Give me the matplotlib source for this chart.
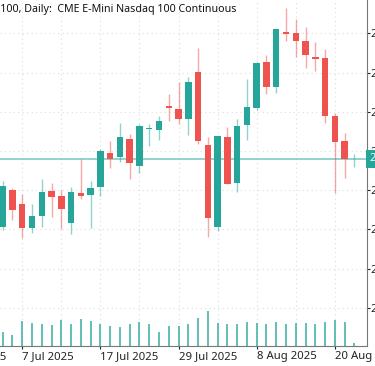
import numpy as np
import pandas as pd
import matplotlib
matplotlib.use("Agg")
import matplotlib.pyplot as plt
import matplotlib.transforms as mtransforms

plt.rcParams['font.family'] = ['Noto Sans', 'DejaVu Sans']

# daily bars, 3 Jul - 22 Aug 2025
dates = pd.bdate_range('2025-07-03', '2025-08-22')

opens = [22810, 23000, 22928, 22808, 22869, 22994, 22968, 22831, 22985, 22974,
         23017, 23191, 23170, 23262, 23124, 23310, 23308, 23431, 23414, 23364,
         23601, 23230, 22813, 23272, 23038, 23332, 23417, 23652, 23528, 23808,
         23800, 23762, 23678, 23676, 23378, 23249, 23157]
highs = [23048, 23009, 22980, 22929, 23057, 23038, 23000, 23017, 23159, 23046,
         23208, 23250, 23342, 23286, 23336, 23337, 23378, 23490, 23550, 23579,
         23724, 23269, 23278, 23323, 23361, 23565, 23652, 23689, 23822, 23928,
         23871, 23831, 23756, 23718, 23395, 23293, 23184]
lows = [22796, 22847, 22754, 22783, 22813, 22864, 22800, 22776, 22953, 22807,
        22970, 23111, 23142, 23058, 23089, 23225, 23256, 23353, 23336, 23281,
        23234, 22762, 22793, 23029, 22992, 23256, 23409, 23489, 23497, 23761,
        23678, 23624, 23609, 23344, 22987, 23063, 23119]
closes = [23022, 22898, 22808, 22868, 22992, 22963, 22902, 22989, 22970, 23011,
          23198, 23157, 23269, 23137, 23325, 23315, 23351, 23419, 23364, 23553,
          23252, 22856, 23276, 23031, 23327, 23426, 23650, 23524, 23820, 23798,
          23759, 23689, 23670, 23380, 23244, 23157, 23160]
volumes = [143, 110, 253, 230, 220, 210, 260, 223, 267, 250,
           220, 203, 187, 217, 243, 220, 140, 203, 203, 223,
           280, 350, 233, 217, 223, 237, 230, 223, 243, 220,
           233, 233, 220, 243, 260, 243, 33]
last_price = 23160
price_ticks = [22400, 22600, 22800, 23000, 23200, 23400, 23600, 23800]

UP = '#26a69a'
DOWN = '#ef5350'

W, H = 375, 366
fig = plt.figure(figsize=(W / 100, H / 100), dpi=100)
ax = fig.add_axes([0, 20 / H, 367 / W, 346 / H])

o = np.array(opens)
c = np.array(closes)
x = np.arange(len(o))
up = c >= o
cols = np.where(up, UP, DOWN)

ax.vlines(x, lows, highs, colors=cols, linewidth=1, alpha=0.5, zorder=2)
ax.bar(x, np.maximum(np.abs(c - o), 4), bottom=np.minimum(o, c), width=0.66,
       color=cols, linewidth=0, zorder=3)

ax.axhline(last_price, color='#80cbc4', linewidth=1.2, zorder=1)

ax.set_xlim(-0.276, 37.29)
ax.set_ylim(22204.6, 23969.9)

# volume at the bottom
vax = ax.twinx()
vax.vlines(x, 0, volumes, colors=UP, linewidth=1.2, alpha=0.85)
vax.set_ylim(0, max(volumes) * 346 / 35)
vax.axis('off')

# price axis on the right
ax.yaxis.tick_right()
ax.set_yticks(price_ticks)
ax.set_yticklabels([f'{v:.2f}' for v in price_ticks])
ax.tick_params(axis='y', length=1.8, pad=0.8, labelsize=8, colors='#222222')

# dates
major = list(range(2, len(x), 8))
ax.set_xticks(major)
ax.set_xticklabels([f'{dates[i].day} {dates[i]:%b %Y}' for i in major])
ax.set_xticks(range(2, len(x), 4), minor=True)
for lab in ax.get_xticklabels():
    lab.set_ha('left')
ax.tick_params(axis='x', which='major', length=2.5, pad=1.2, labelsize=8.2, colors='#222222')
ax.tick_params(axis='x', which='minor', length=0)
ax.annotate('25 Jun 2025', xy=(-6, 0), xycoords=ax.get_xaxis_transform(),
            xytext=(0, -3.7), textcoords='offset points', ha='left', va='top',
            fontsize=8.2, color='#222222', annotation_clip=False)

ax.grid(axis='y', color='#dcdcdc', linestyle=(0, (1, 3)), linewidth=0.8)
ax.grid(axis='x', which='both', color='#dcdcdc', linestyle=(0, (1, 3)), linewidth=0.8)
ax.set_axisbelow(True)

for s in ['top', 'left']:
    ax.spines[s].set_visible(False)
for s in ['right', 'bottom']:
    ax.spines[s].set_color('#777777')

# last price tag
tr = mtransforms.blended_transform_factory(ax.transAxes, ax.transData)
ax.text(1.006, last_price, '23160.00', transform=tr, ha='left', va='center',
        fontsize=8, color='white', clip_on=False,
        bbox=dict(boxstyle='square,pad=0.3', fc=UP, ec='none'))

fig.text(237 / W, 1 - 4 / H, 'NQ100, Daily:  CME E-Mini Nasdaq 100 Continuous',
         ha='right', va='top', fontsize=7.7, color='#111111')

fig.savefig('out.png', dpi=100)
